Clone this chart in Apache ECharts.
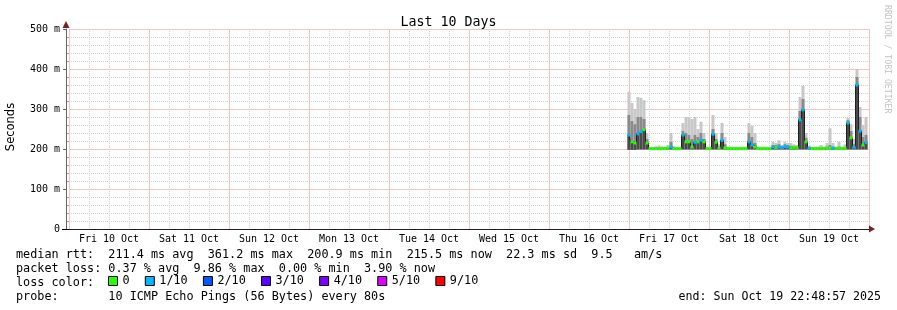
<!DOCTYPE html>
<html><head><meta charset="utf-8">
<script src="https://cdn.jsdelivr.net/npm/echarts@6/dist/echarts.min.js"></script>
<style>html,body{margin:0;padding:0;background:#fff}#c{width:897px;height:310px}</style>
</head><body><div id="c"></div>
<script>
// ---- data ----
const dayLabels = ['Fri 10 Oct','Sat 11 Oct','Sun 12 Oct','Mon 13 Oct','Tue 14 Oct','Wed 15 Oct','Thu 16 Oct','Fri 17 Oct','Sat 18 Oct','Sun 19 Oct'];
const yTicks = [0, 100, 200, 300, 400, 500];
// hours since Fri 10 Oct 00:00
const hours = [168.0,168.9,169.8,170.7,171.6,172.5,173.4,174.3,175.2,176.1,177.0,177.9,178.8,179.7,180.6,181.5,182.4,183.3,184.2,185.1,
  186.0,186.9,187.8,188.7,189.6,190.5,191.4,192.3,193.2,194.1,195.0,195.9,196.8,197.7,198.6,199.5,200.4,201.3,202.2,203.1,
  204.0,204.9,205.8,206.7,207.6,208.5,209.4,210.3,211.2,212.1,213.0,213.9,214.8,215.7,216.6,217.5,218.4,219.3,220.2,221.1,
  222.0,222.9,223.8,224.7,225.6,226.5,227.4,228.3,229.2,230.1,231.0,231.9,232.8,233.7,234.6,235.5,236.4,237.3,238.2,239.1];
// median rtt (ms)
const medianMs = [235,218,215,238,243,248,215,201,201,201,201,201,201,202,205,201,201,201,235,218,
  218,205,217,218,222,218,201,201,237,217,202,222,203,201,201,201,201,201,201,201,
  218,210,205,201,201,201,201,201,205,204,205,204,206,205,203,204,203,273,298,218,
  202,201,201,201,202,201,202,202,202,201,202,201,202,265,228,205,360,245,210,216];
// lowest ping (ms)
const lowMs = [198,198,198,199,199,199,199,199,199,199,199,199,199,199,199,199,199,199,199,199,
  199,199,199,199,199,199,199,199,199,199,199,199,199,199,199,199,199,199,199,199,
  199,199,199,199,199,199,199,199,199,199,199,199,199,199,199,199,199,199,199,199,
  199,199,199,199,199,199,199,199,199,199,199,199,199,199,199,199,199,199,199,199];
// upper edge of dense smoke (ms)
const midMs = [285,270,262,280,280,275,225,203,203,203,204,203,203,204,218,203,203,203,245,240,
  235,225,235,230,240,225,203,203,250,225,206,240,212,203,203,203,203,203,203,203,
  240,230,215,203,203,203,203,203,210,210,212,207,212,210,208,207,206,295,325,228,
  205,203,203,203,205,203,206,210,206,203,206,203,205,272,245,212,380,280,230,235];
// highest ping (ms)
const highMs = [343,315,300,330,328,322,240,206,206,207,209,207,206,210,240,207,206,206,265,280,
  280,275,280,250,268,240,206,206,285,240,212,265,230,206,206,206,206,206,206,206,
  265,258,240,206,206,206,206,206,218,215,222,210,218,215,215,212,210,330,358,240,
  208,206,206,206,210,206,215,252,215,206,218,206,212,278,262,225,400,305,260,280];
// lost pings out of 10
const lossTenths = [1,0,0,1,1,0,0,0,0,0,0,0,0,0,1,0,0,0,1,0,
  0,0,1,0,1,0,0,0,1,0,0,1,0,0,0,0,0,0,0,0,
  1,1,0,0,0,0,0,0,1,0,1,1,1,1,0,0,0,1,1,0,
  1,0,0,0,0,0,0,0,1,0,0,0,0,1,0,1,1,1,0,1];
const lossLevels = [0, 1, 2, 3, 4, 5, 9];
const lossNames = ['0', '1/10', '2/10', '3/10', '4/10', '5/10', '9/10'];
const lossColors = ['#26ff00', '#00b8ff', '#0059ff', '#5e00ff', '#7e00ff', '#dd00ff', '#ff0000'];
const statLines = [
  'median rtt:  211.4 ms avg  361.2 ms max  200.9 ms min  215.5 ms now  22.3 ms sd  9.5   am/s',
  'packet loss: 0.37 % avg  9.86 % max  0.00 % min  3.90 % now',
  'loss color:',
  'probe:       10 ICMP Echo Pings (56 Bytes) every 80s'
];
const endText = 'end: Sun Oct 19 22:48:57 2025';
const stepHours = 0.9;

// ---- chart ----
const MONO = "'DejaVu Sans Mono', monospace";
const FS = 11.8;
const chart = echarts.init(document.getElementById('c'), null, {renderer: 'canvas'});

const smokeData = hours.map((h, i) => [h, lowMs[i], midMs[i], medianMs[i], highMs[i]]);

function smokeRender(params, api) {
  const h = api.value(0);
  const w = api.size([stepHours, 0])[0];
  const pLo = api.coord([h, api.value(1)]);
  const pMid = api.coord([h, api.value(2)]);
  const pMed = api.coord([h, api.value(3)]);
  const pHi = api.coord([h, api.value(4)]);
  const x0 = pLo[0] - w / 2;
  return {type: 'group', children: [
    {type: 'rect', shape: {x: x0, y: pHi[1], width: w, height: pLo[1] - pHi[1]}, style: {fill: '#c8c8c8'}},
    {type: 'rect', shape: {x: x0, y: pMid[1], width: w, height: pLo[1] - pMid[1]}, style: {fill: '#8a8a8a'}},
    {type: 'rect', shape: {x: x0, y: pMed[1], width: w, height: pLo[1] - pMed[1]}, style: {fill: '#4a4a4a'}}
  ]};
}

function lossRender(params, api) {
  const h = api.value(0);
  const w = api.size([stepHours, 0])[0];
  const p = api.coord([h, api.value(1)]);
  return {type: 'rect', shape: {x: p[0] - w / 2, y: p[1] - 1.5, width: w, height: 3}, style: {fill: api.visual('color')}};
}

const AX = {xAxisIndex: 1, yAxisIndex: 1};
const series = [
  Object.assign({type: 'custom', name: 'smoke', renderItem: smokeRender, data: smokeData, encode: {x: 0, y: [1, 4]}, z: 2, silent: true}, AX),
  Object.assign({type: 'line', name: 'median', data: hours.map((h, i) => [h, medianMs[i]]), step: 'middle', showSymbol: false,
   lineStyle: {color: '#202020', width: 1}, z: 3, silent: true}, AX)
];
lossLevels.forEach((lvl, k) => {
  series.push(Object.assign({
    type: 'custom', name: lossNames[k], renderItem: lossRender,
    data: hours.map((h, i) => [h, medianMs[i]]).filter((d, i) => lossTenths[i] === lvl),
    encode: {x: 0, y: 1}, itemStyle: {color: lossColors[k]}, z: 4, silent: true
  }, AX));
});

const ARROW = '#801f1f';
const graphics = [
  {type: 'text', x: 11, y: 127, rotation: Math.PI / 2,
   style: {text: 'Seconds', font: "11.5px 'DejaVu Sans', sans-serif", fill: '#000', textAlign: 'center', textVerticalAlign: 'middle'}},
  {type: 'text', x: 887, y: 5, rotation: -Math.PI / 2,
   style: {text: 'RRDTOOL / TOBI OETIKER', font: "8.2px " + MONO, fill: '#c4c4c4', textAlign: 'left', textVerticalAlign: 'middle'}},
  {type: 'text', x: 881, y: 297,
   style: {text: endText, font: "11.6px " + MONO, fill: '#000', textAlign: 'right', textVerticalAlign: 'middle'}},
  {type: 'polygon', shape: {points: [[869, 225.5], [875, 229], [869, 232.5]]}, style: {fill: ARROW}, z: 10},
  {type: 'polygon', shape: {points: [[62.5, 28], [66, 21], [69.5, 28]]}, style: {fill: ARROW}, z: 10},
  {type: 'line', shape: {x1: 62, y1: 229.5, x2: 69, y2: 229.5}, style: {stroke: '#000', lineWidth: 1}, z: 10}
];
const lineY = [254.5, 268.5, 282.5, 296.8];
statLines.forEach((t, i) => {
  graphics.push({type: 'text', x: 16, y: lineY[i],
    style: {text: t, font: FS + "px " + MONO, fill: '#000', textAlign: 'left', textVerticalAlign: 'middle'}});
});

// minor grid positions (every 6 h, every 20 ms) as category ticks; majors are skipped there
const minorHourTicks = Array.from({length: 41}, (_, k) => String(k * 6));
const minorMsTicks = Array.from({length: 26}, (_, k) => String(k * 20));
const notMajorX = idx => idx % 4 !== 0;
const notMajorY = idx => idx % 5 !== 0;

const MAJOR = '#f5c4c4';
const MINOR = '#d2d2d2';
const option = {
  animation: false,
  backgroundColor: '#ffffff',
  title: {text: 'Last 10 Days', left: 'center', top: 11,
    textStyle: {fontFamily: MONO, fontSize: 13.3, fontWeight: 'normal', color: '#000'}},
  grid: {left: 69, right: 28, top: 29, bottom: 81, containLabel: false},
  legend: {
    data: lossNames, left: 108, top: 275, padding: 0, itemGap: 15.2, itemWidth: 9, itemHeight: 9,
    icon: 'rect', selectedMode: false,
    itemStyle: {borderColor: '#000', borderWidth: 1},
    textStyle: {fontFamily: MONO, fontSize: FS, color: '#000'}
  },
  xAxis: [
    {type: 'category', data: minorHourTicks, boundaryGap: false, position: 'bottom',
     axisLine: {show: false}, axisTick: {show: false}, axisLabel: {show: false},
     splitLine: {show: true, interval: notMajorX, lineStyle: {color: MINOR, type: [1, 1], width: 1}}},
    {type: 'value', min: 0, max: 240, interval: 24, position: 'bottom',
     axisLabel: {show: false}, axisTick: {show: false},
     axisLine: {show: true, onZero: false, lineStyle: {color: '#1f1f1f', width: 1}},
     splitLine: {show: true, lineStyle: {color: MAJOR, type: 'solid', width: 1}}},
    {type: 'category', data: dayLabels, boundaryGap: true, position: 'bottom',
     axisLine: {show: false}, axisTick: {show: false}, splitLine: {show: false},
     axisLabel: {margin: 5, fontFamily: MONO, fontSize: 10, color: '#000'}}
  ],
  yAxis: [
    {type: 'category', data: minorMsTicks, boundaryGap: false, position: 'left', offset: 3,
     axisLine: {show: false}, axisLabel: {show: false},
     axisTick: {show: true, interval: notMajorY, length: 2, lineStyle: {color: '#999'}},
     splitLine: {show: true, interval: notMajorY, lineStyle: {color: MINOR, type: [1, 1], width: 1}}},
    {type: 'value', position: 'left', min: yTicks[0], max: yTicks[yTicks.length - 1], interval: 100, offset: 3,
     axisLine: {show: true, onZero: false, lineStyle: {color: '#666', width: 1}},
     axisTick: {show: true, length: 3, lineStyle: {color: '#666'}},
     splitLine: {show: true, lineStyle: {color: MAJOR, type: 'solid', width: 1}},
     axisLabel: {margin: 6, fontFamily: MONO, fontSize: 10, color: '#000',
       formatter: v => (v === 0 ? '0' : v + ' m')}}
  ],
  graphic: graphics,
  series: series
};
chart.setOption(option);
</script></body></html>
